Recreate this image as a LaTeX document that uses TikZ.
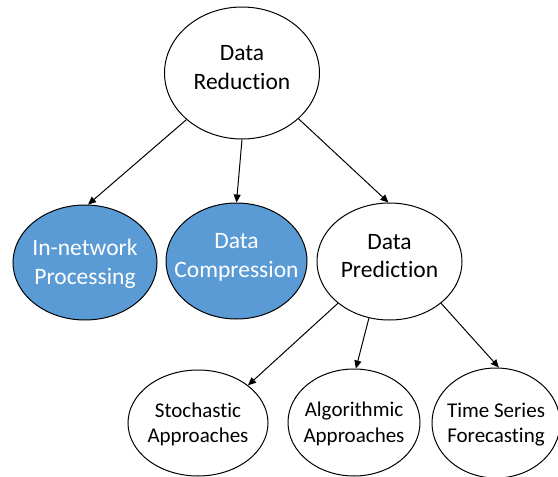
\documentclass[tikz,border=0pt]{standalone}
\usepackage{fontspec}
\setmainfont[Ligatures=NoCommon]{Carlito}
\usepackage{tikz}
\usetikzlibrary{shapes.geometric,arrows.meta}
\definecolor{nodeblue}{HTML}{5B9BD5}
\begin{document}
\begin{tikzpicture}[x=1pt,y=-1pt,
	% inner sep kept negative so that only minimum width/height size the ellipses
	bubble/.style={ellipse,draw=black,line width=1pt,inner sep=-50pt,align=center,
		font=\fontsize{23.5}{28.5}\selectfont,text height=40pt,text depth=8pt},
	leaf/.style={bubble,font=\fontsize{21}{25.5}\selectfont,text height=44.4pt,text depth=5pt},
	filled/.style={fill=nodeblue,text=white},
	link/.style={-{Triangle[length=8pt,width=7pt]},line width=1pt}]
	\useasboundingbox (0,0) rectangle (558,477);
	\node[bubble,minimum width=155,minimum height=132] (dr) at (242,73) {Data\\Reduction};
	\node[bubble,filled,minimum width=144,minimum height=115,text height=49pt,text depth=6pt] (inp) at (85,262.5) {In-network\\Processing};
	\node[bubble,filled,minimum width=141,minimum height=116] (dc) at (236.5,261) {Data\\Compression};
	\node[bubble,minimum width=145,minimum height=117] (dp) at (389.5,261.5) {Data\\Prediction};
	\node[leaf,minimum width=140,minimum height=106] (sa) at (198,423) {Stochastic\\Approaches};
	\node[leaf,minimum width=132,minimum height=107] (aa) at (354,422.5) {Algorithmic\\Approaches};
	\node[leaf,minimum width=128,minimum height=110] (ts) at (496,423) {Time Series\\Forecasting};
	\draw[link] (dr.220.7) -- (inp.87);
	\draw[link] (dr.270) -- (dc.90);
	\draw[link] (dr.321.3) -- (dp.91.5);
	\draw[link] (dp.219) -- (sa.37);
	\draw[link] (dp.250) -- (aa.88);
	\draw[link] (dp.321.7) -- (ts.87);
\end{tikzpicture}
\end{document}
